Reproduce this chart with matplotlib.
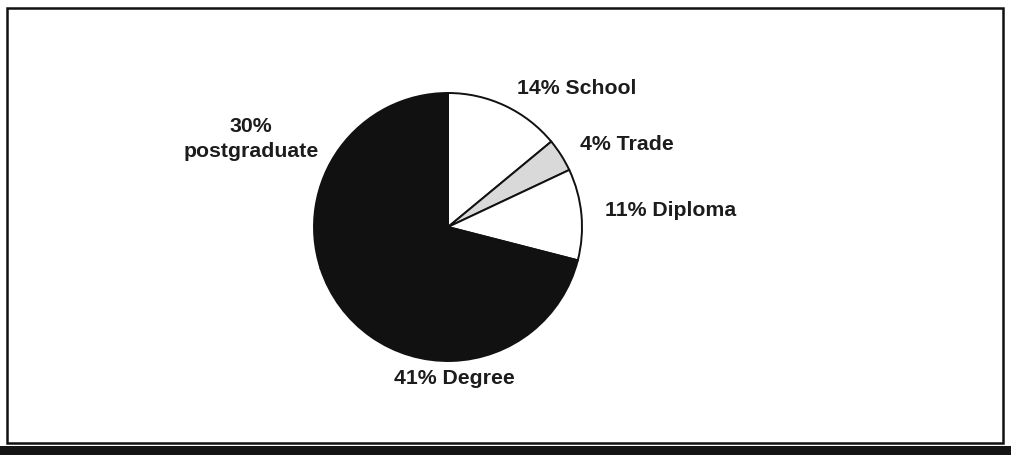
import matplotlib
matplotlib.use("Agg")
import matplotlib.pyplot as plt
from matplotlib.patches import Rectangle

# Highest qualification held, share of respondents (%)
categories = ["School", "Trade", "Diploma", "Degree", "postgraduate"]
shares = [14, 4, 11, 41, 30]
colors = ["white", "#d9d9d9", "white", "#111111", "#111111"]

W, H = 1011, 455
fig = plt.figure(figsize=(W / 100, H / 100), dpi=100)
ax = fig.add_axes([0, 0, 1, 1])

# outer frame and dark strip underneath
ax.add_patch(Rectangle((7, 12), 996, 435, fill=False, edgecolor="#111111", lw=1.8))
ax.add_patch(Rectangle((0, 0), W, 9, facecolor="#151515", edgecolor="none"))

wedges, _ = ax.pie(shares, colors=colors, startangle=90, counterclock=False,
                   center=(448, 228), radius=134, frame=True,
                   wedgeprops=dict(edgecolor="#111111", linewidth=1.4))
ax.set_xlim(0, W)
ax.set_ylim(0, H)
ax.set_aspect("equal")
ax.axis("off")

# label anchors (pixel layout, y measured from the bottom)
label_pos = [(577, 367), (627, 310), (671, 245), (454, 77), (251, 316)]
font = dict(family="Liberation Sans", weight="bold", size=15.3, color="#1c1c1c",
            ha="center", va="center")
for name, v, (x, y) in zip(categories, shares, label_pos):
    if name == "postgraduate":
        ax.text(x, y, f"{v}%\n{name}", linespacing=1.4, **font)
    else:
        ax.text(x, y, f"{v}% {name}", **font)

fig.savefig("out.png", dpi=100)
